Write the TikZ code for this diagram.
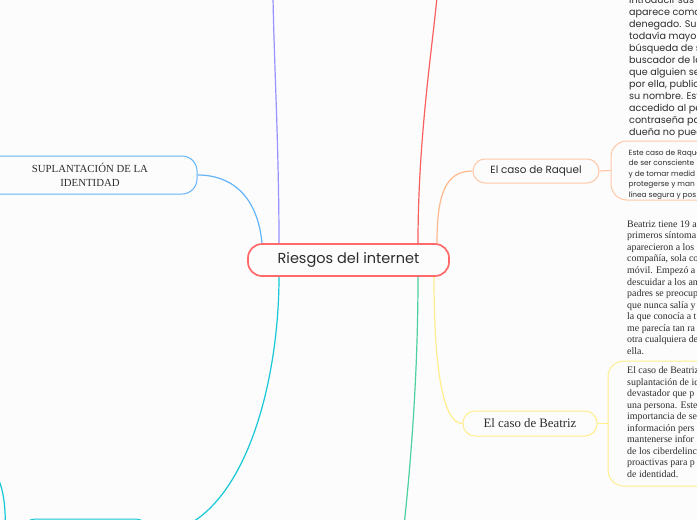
\documentclass[tikz,border=0pt]{standalone}
\usepackage{fontspec}
\setmainfont{Poppins}
\newfontfamily\serifA{Liberation Serif}
\pgfdeclarelayer{bg}
\pgfsetlayers{bg,main}
\definecolor{bgc}{RGB}{252,252,252}
\definecolor{txt}{RGB}{45,45,45}
\definecolor{redc}{RGB}{255,105,105}
\definecolor{purplec}{RGB}{150,146,255}
\definecolor{redline}{RGB}{250,95,95}
\definecolor{orangec}{RGB}{255,185,140}
\definecolor{orangeb}{RGB}{255,200,165}
\definecolor{yellowc}{RGB}{255,238,140}
\definecolor{greenc}{RGB}{75,208,158}
\definecolor{cyanc}{RGB}{20,200,215}
\definecolor{bluec}{RGB}{100,180,250}
\tikzset{
  box/.style={draw, fill=bgc, rounded corners=12pt, inner sep=0pt, text=txt, line width=1pt, align=center},
  central/.style={draw=redc, fill=bgc, line width=1.7pt, rounded corners=14pt, inner sep=0pt,
    minimum width=201pt, minimum height=32pt, text=txt, font=\fontsize{14.5}{16}\selectfont},
  conn/.style={line width=1.2pt},
  para/.style={anchor=north west, inner sep=0pt, align=left, text=txt},
}
\begin{document}
\begin{tikzpicture}[x=1pt,y=-1pt]
\useasboundingbox (0,0) rectangle (697,520);
\begin{pgfonlayer}{bg}
\fill[bgc] (0,0) rectangle (697,520);
\end{pgfonlayer}

% nodes
\node[central] (c) at (348.5,260) {Riesgos del internet};
\node[box, draw=orangeb, minimum width=126pt, minimum height=24pt, font=\fontsize{10.4}{12}\selectfont] (raq) at (536,171) {El caso de Raquel};
\node[box, draw=yellowc, minimum width=134pt, minimum height=25pt, font=\serifA\fontsize{12.8}{14}\selectfont] (bea) at (530,423.5) {El caso de Beatriz};
\node[box, draw=bluec, rounded corners=15pt, minimum width=214pt, minimum height=38pt, font=\serifA\fontsize{10.8}{14}\selectfont] (sup) at (90,175) {SUPLANTACIÓN DE LA\\IDENTIDAD};
\node[box, draw=cyanc, minimum width=125pt, minimum height=32pt] (cyb) at (85.5,535) {};
\node[box, draw=orangeb, rounded corners=16pt, minimum width=190pt, minimum height=59pt] (rbox) at (706,170.5) {};
\node[box, draw=yellowc, rounded corners=16pt, minimum width=190pt, minimum height=125pt] (bbox) at (703,423.5) {};

% texts
\node[para, font=\fontsize{9.6}{12}\selectfont] (rtext) at (629,-4) {introducir sus d\\aparece como\\denegado. Su p\\todavía mayor\\búsqueda de s\\buscador de la\\que alguien se\\por ella, public\\su nombre. Est\\accedido al pe\\contraseña par\\dueña no pued};
\node[para, font=\fontsize{7.4}{10.5}\selectfont] (rbtext) at (628.5,149.5) {Este caso de Raque\\de ser consciente\\y de tomar medid\\protegerse y man\\línea segura y pos};
\node[para, font=\serifA\fontsize{9.9}{11.55}\selectfont] (btext) at (627,220.5) {Beatriz tiene 19 a\\primeros síntoma\\aparecieron a los\\compañía, sola co\\móvil. Empezó a\\descuidar a los an\\padres se preocup\\que nunca salía y\\la que conocía a t\\me parecía tan ra\\otra cualquiera de\\ella.};
\node[para, font=\serifA\fontsize{9.9}{11.55}\selectfont] (bbtext) at (627,366.5) {El caso de Beatriz\\suplantación de id\\devastador que p\\una persona. Este\\importancia de se\\información pers\\mantenerse infor\\de los ciberdelinc\\proactivas para p\\de identidad.};

% free ends
\coordinate (ptop) at (273,-3);
\coordinate (rtop) at (437,-3);
\coordinate (gbot) at (404,526);
\coordinate (lc1) at (-2,478);
\coordinate (lc2) at (5.5,526);

\begin{pgfonlayer}{bg}
\draw[conn, purplec] ([xshift=-69.5pt]c.north) .. controls (279,150) and (274,60) .. (ptop);
\draw[conn, redline] ([xshift=69.5pt]c.north) .. controls (418,140) and (432,50) .. (rtop);
\draw[conn, orangec] ([xshift=88.5pt]c.north) .. controls (437,195) and (445,171) .. (raq.west);
\draw[conn, bluec] ([xshift=-86.5pt]c.north) .. controls (258,200) and (235,175) .. (sup.east);
\draw[conn, cyanc] ([xshift=-69.5pt]c.south) .. controls (279,390) and (240,535) .. (cyb.east);
\draw[conn, greenc] ([xshift=69.5pt]c.south) .. controls (418,380) and (410,470) .. (gbot);
\draw[conn, yellowc] ([xshift=85.5pt]c.south) .. controls (434,380) and (445,423.5) .. (bea.west);
\draw[conn, cyanc] (lc1) .. controls (4,492) and (5,505) .. (lc2);
\draw[conn, orangeb] (raq.east) -- (rbox.west);
\draw[conn, yellowc] (bea.east) -- (bbox.west);
\end{pgfonlayer}
\end{tikzpicture}
\end{document}
